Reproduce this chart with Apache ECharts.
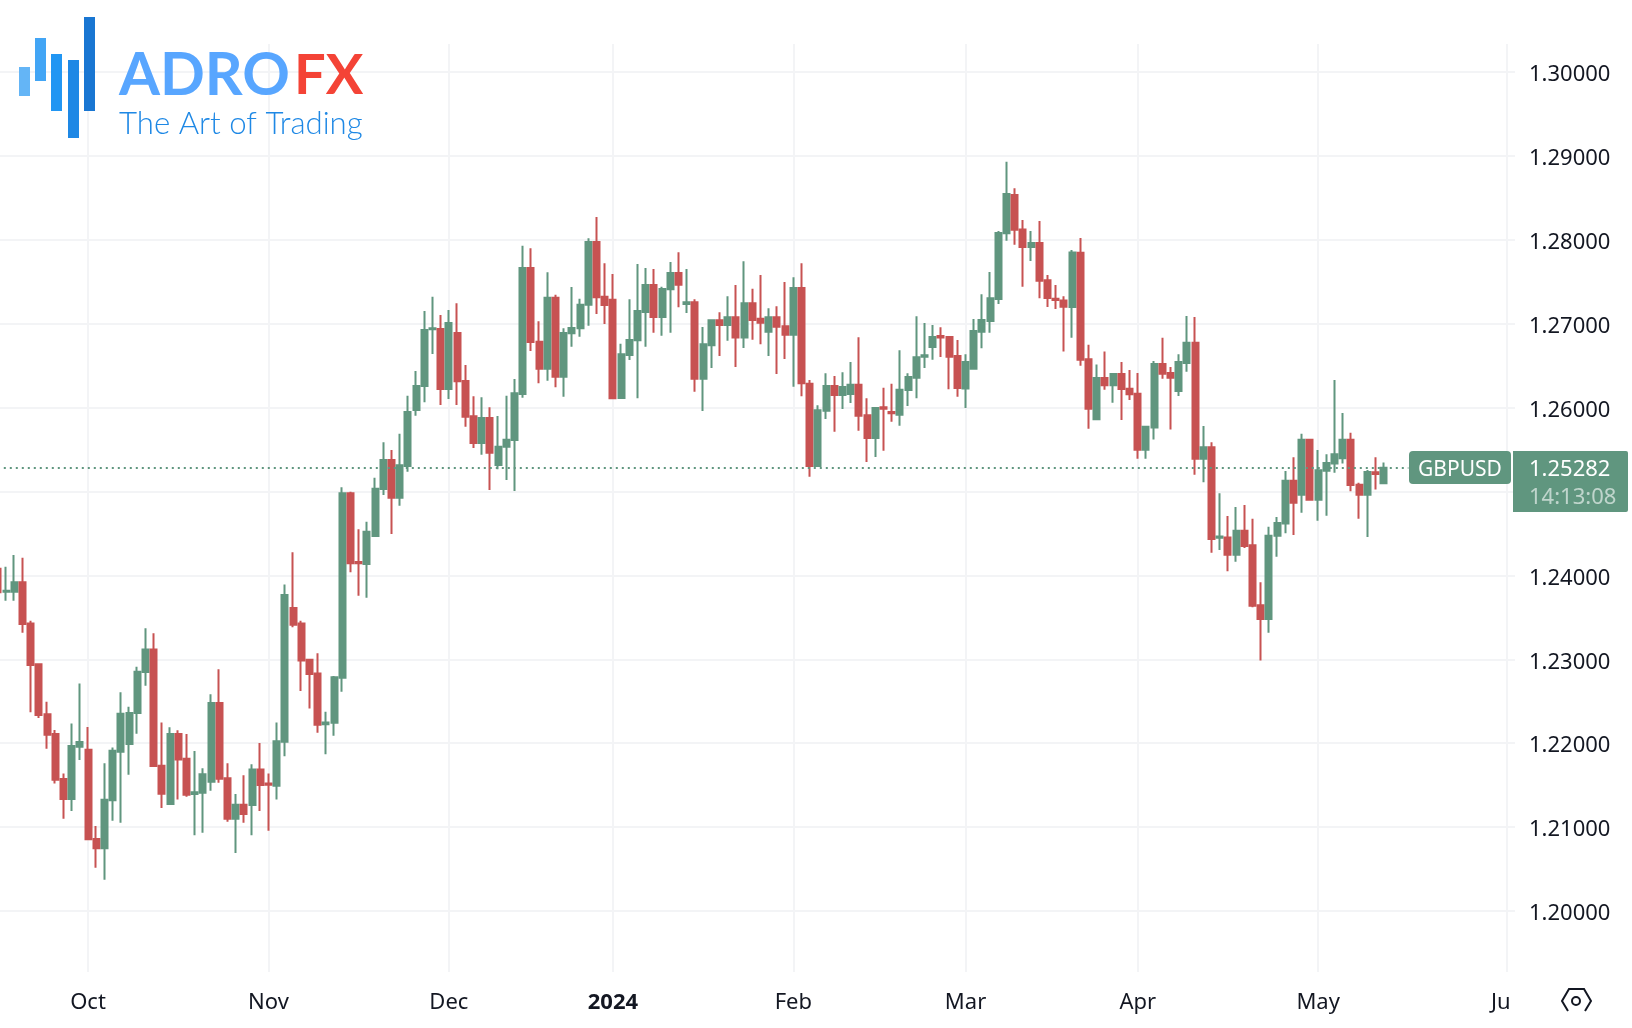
<!DOCTYPE html>
<html>
<head>
<meta charset="utf-8">
<title>GBPUSD</title>
<script src="https://cdn.jsdelivr.net/npm/echarts@6/dist/echarts.min.js"></script>
<style>
html,body{margin:0;padding:0;background:#fff;}
#chart{width:1632px;height:1028px;}
</style>
</head>
<body>
<div id="chart"></div>
<script>
// daily GBPUSD candles, one entry per bar
const opens = [
1.24080,1.23806,1.23806,1.23917,1.23428,1.22940,1.22344,1.22109,1.21573,1.21335,
1.21958,1.21923,1.20858,1.20747,1.21319,1.21899,1.21990,1.22360,1.22848,1.23118,
1.21732,1.21275,1.22109,1.21815,1.21394,1.21410,1.21541,1.22479,1.21581,1.21100,
1.21267,1.21263,1.21688,1.21521,1.21494,1.22018,1.23611,1.23428,1.22995,1.22832,
1.22225,1.22244,1.22781,1.24978,1.24160,1.24136,1.24470,1.25030,1.25375,1.24926,
1.25304,1.25971,1.26257,1.26933,1.26937,1.26222,1.26889,1.26317,1.25896,1.25578,
1.25876,1.25316,1.25534,1.25614,1.26162,1.27664,1.26786,1.26464,1.27310,1.26369,
1.26885,1.26945,1.27227,1.27974,1.27322,1.27286,1.26114,1.26627,1.26802,1.27139,
1.27461,1.27080,1.27410,1.27604,1.27235,1.27255,1.26345,1.26742,1.27040,1.26985,
1.27076,1.26837,1.27243,1.27060,1.26905,1.27076,1.26969,1.26869,1.27426,1.26285,
1.25304,1.25963,1.26257,1.26150,1.26162,1.26273,1.25908,1.25638,1.26003,1.25948,
1.25916,1.26210,1.26357,1.26607,1.26722,1.26853,1.26841,1.26615,1.26229,1.26464,
1.26905,1.27032,1.27294,1.28077,1.28534,1.28124,1.27914,1.27962,1.27517,1.27298,
1.27278,1.27199,1.27846,1.26575,1.25860,1.26352,1.26265,1.26400,1.26225,1.26166,
1.25498,1.25764,1.26519,1.26412,1.26198,1.26531,1.26774,1.25391,1.25526,1.24449,
1.24453,1.24247,1.24533,1.24358,1.23643,1.23480,1.24473,1.24620,1.25129,1.24962,
1.25617,1.24902,1.25248,1.25335,1.25395,1.25617,1.25081,1.24962,1.25228,1.25097
]
const closes = [
1.23800,1.23818,1.23917,1.23420,1.22932,1.22336,1.22101,1.21565,1.21335,1.21966,
1.22014,1.20854,1.20747,1.21327,1.21910,1.22352,1.22360,1.22852,1.23118,1.21728,
1.21398,1.22109,1.21807,1.21386,1.21414,1.21629,1.22479,1.21577,1.21100,1.21267,
1.21156,1.21688,1.21501,1.21505,1.22022,1.23766,1.23412,1.22987,1.22824,1.22221,
1.22248,1.22785,1.24978,1.24144,1.24144,1.24521,1.25034,1.25375,1.24926,1.25312,
1.25948,1.26257,1.26925,1.26945,1.26222,1.27008,1.26313,1.25892,1.25578,1.25876,
1.25463,1.25534,1.25618,1.26170,1.27664,1.26782,1.26464,1.27310,1.26369,1.26889,
1.26949,1.27227,1.27974,1.27314,1.27223,1.26110,1.26635,1.26806,1.27151,1.27461,
1.27080,1.27414,1.27604,1.27465,1.27255,1.26345,1.26754,1.27040,1.26985,1.27076,
1.26837,1.27243,1.27044,1.27012,1.27076,1.26965,1.26869,1.27426,1.26289,1.25304,
1.25967,1.26257,1.26150,1.26246,1.26273,1.25904,1.25638,1.25995,1.25987,1.25932,
1.26214,1.26365,1.26599,1.26623,1.26841,1.26837,1.26607,1.26234,1.26543,1.26913,
1.27044,1.27302,1.28081,1.28546,1.28120,1.27914,1.27962,1.27513,1.27306,1.27282,
1.27203,1.27850,1.26571,1.25987,1.26352,1.26265,1.26400,1.26221,1.26158,1.25498,
1.25772,1.26519,1.26404,1.26356,1.26543,1.26774,1.25391,1.25526,1.24433,1.24465,
1.24247,1.24533,1.24350,1.23639,1.23480,1.24473,1.24624,1.25129,1.24867,1.25617,
1.24902,1.25252,1.25340,1.25443,1.25617,1.25077,1.24962,1.25232,1.25208,1.25282
]
const lows = [
1.23800,1.23699,1.23699,1.23317,1.22368,1.22300,1.21935,1.21521,1.21100,1.21192,
1.21799,1.20854,1.20516,1.20373,1.21076,1.21053,1.21625,1.22113,1.22685,1.21720,
1.21227,1.21275,1.21330,1.21362,1.20902,1.20933,1.21434,1.21529,1.21064,1.20691,
1.21053,1.20902,1.21192,1.20957,1.21330,1.21843,1.23381,1.22622,1.22415,1.22125,
1.21867,1.22089,1.22614,1.24037,1.23758,1.23735,1.24462,1.24958,1.24494,1.24831,
1.25236,1.25904,1.26063,1.26639,1.26031,1.26102,1.26031,1.25773,1.25518,1.25439,
1.25018,1.25264,1.25137,1.25006,1.26118,1.26675,1.26289,1.26321,1.26242,1.26130,
1.26726,1.26845,1.26977,1.27116,1.26996,1.26102,1.26114,1.26567,1.26110,1.26726,
1.26893,1.26857,1.26893,1.27195,1.27128,1.26190,1.25959,1.26472,1.26615,1.26798,
1.26484,1.26710,1.26810,1.26754,1.26615,1.26400,1.26579,1.26250,1.26134,1.25177,
1.25304,1.25864,1.25713,1.25983,1.26055,1.25725,1.25352,1.25411,1.25487,1.25832,
1.25785,1.26019,1.26110,1.26472,1.26571,1.26603,1.26218,1.26130,1.25995,1.26460,
1.26706,1.26893,1.27234,1.27989,1.27942,1.27441,1.27747,1.27302,1.27199,1.27175,
1.26670,1.26833,1.26500,1.25749,1.25860,1.26213,1.26058,1.25852,1.26090,1.25391,
1.25391,1.25621,1.26345,1.25740,1.26138,1.26428,1.25200,1.25109,1.24270,1.24302,
1.24048,1.24163,1.24326,1.23619,1.22987,1.23317,1.24223,1.24501,1.24481,1.24747,
1.24902,1.24652,1.24712,1.25224,1.25335,1.25002,1.24676,1.24457,1.25025,1.25097
]
const highs = [
1.24080,1.24104,1.24243,1.24211,1.23460,1.22952,1.22495,1.22157,1.21640,1.22236,
1.22713,1.22193,1.21013,1.21760,1.21950,1.22606,1.22435,1.22912,1.23369,1.23309,
1.22248,1.22189,1.22153,1.22109,1.21907,1.21700,1.22582,1.22880,1.21760,1.21394,
1.21617,1.21748,1.22002,1.21640,1.22248,1.23893,1.24275,1.23460,1.23003,1.23071,
1.22376,1.22801,1.25050,1.24998,1.24549,1.24640,1.25165,1.25586,1.25495,1.25689,
1.26142,1.26436,1.27151,1.27322,1.27104,1.27163,1.27243,1.26508,1.26134,1.26122,
1.26003,1.25900,1.26142,1.26341,1.27930,1.27898,1.27028,1.27612,1.27346,1.26945,
1.27437,1.27298,1.28017,1.28272,1.27720,1.27592,1.26762,1.27290,1.27712,1.27664,
1.27652,1.27441,1.27735,1.27851,1.27652,1.27290,1.26961,1.27044,1.27135,1.27326,
1.27461,1.27743,1.27418,1.27580,1.27183,1.27207,1.27497,1.27553,1.27720,1.26329,
1.26027,1.26408,1.26377,1.26420,1.26544,1.26838,1.26110,1.25999,1.26238,1.26285,
1.26683,1.26408,1.27088,1.27008,1.26985,1.26957,1.26850,1.26806,1.26635,1.27056,
1.27350,1.27616,1.28105,1.28931,1.28613,1.28236,1.28105,1.28224,1.27580,1.27461,
1.27326,1.27878,1.28021,1.26750,1.26515,1.26670,1.26400,1.26543,1.26448,1.26412,
1.25780,1.26555,1.26833,1.26484,1.26635,1.27091,1.27080,1.25780,1.25586,1.24978,
1.24708,1.24815,1.24839,1.24676,1.23917,1.24580,1.24696,1.25244,1.25407,1.25689,
1.25629,1.25494,1.25443,1.26329,1.25935,1.25701,1.25105,1.25256,1.25407,1.25347
]

// bar index of each month label; 184 is a future bar
const monthIndex = [11,33,55,75,97,118,139,161,184]
const monthLabels = ['Oct','Nov','Dec','2024','Feb','Mar','Apr','May','Ju']
const lastPrice = 1.25282
const countdown = '14:13:08'
const symbol = 'GBPUSD'
const barCount = 186 // bars plus blank space to the right

const green = '#60967f'
const red = '#c75252'
const gridColor = '#f3f4f6'
const textColor = '#131722'
const font = '"Noto Sans", sans-serif'

const categories = []
for(let i=0;i<barCount;i++) categories.push(i)
const candles = opens.map((o,i) => [o,closes[i],lows[i],highs[i]])

let myChart = echarts.init(document.getElementById('chart'))

const tickCheck = (index) => monthIndex.indexOf(index) >= 0

// logo + price tags sit outside of the axes
const logoBars = [
	[19,67,11,29,'#64b5f6'],
	[35,38,11,43,'#42a5f5'],
	[51,54,11,57,'#2196f3'],
	[68,60,11,78,'#1e88e5'],
	[84,17,11,94,'#1976d2']
]
const graphic = logoBars.map(b => ({
	type:'rect', z:10, shape:{x:b[0],y:b[1],width:b[2],height:b[3]}, style:{fill:b[4]}
}))
graphic.push(
	{type:'text',z:10,x:119,y:105,style:{text:'ADRO',fill:'#58a6ff',font:'bold 59px Lato',textVerticalAlign:'bottom'}},
	{type:'text',z:10,x:294,y:104,style:{text:'FX',fill:'#f44336',font:'bold 56px Lato',textVerticalAlign:'bottom'}},
	{type:'text',z:10,x:119,y:139,style:{text:'The Art of Trading',fill:'#1e88e5',font:'300 31.2px Lato',textVerticalAlign:'bottom'}},
	{type:'rect',z:10,shape:{x:1409,y:451,width:102,height:33,r:4},style:{fill:green}},
	{type:'text',z:11,x:1460,y:470,style:{text:symbol,fill:'#fff',font:'21px '+font,textAlign:'center',textVerticalAlign:'middle'}},
	{type:'rect',z:10,shape:{x:1513,y:451,width:115,height:61,r:[0,2,2,0]},style:{fill:green}},
	{type:'text',z:11,x:1529,y:470,style:{text:lastPrice.toFixed(5),fill:'#fff',font:'22px '+font,textVerticalAlign:'middle'}},
	{type:'text',z:11,x:1529,y:498,style:{text:countdown,fill:'rgba(255,255,255,0.6)',font:'22px '+font,textVerticalAlign:'middle'}},
	{type:'polyline',z:10,shape:{points:[[1568,1011],[1562,1001],[1569,989],[1584,989],[1591,1001],[1585,1011]]},style:{stroke:textColor,lineWidth:2,fill:null}},
	{type:'circle',z:10,shape:{cx:1576,cy:1001,r:4},style:{stroke:textColor,lineWidth:2,fill:null}}
)

const option = {
	animation:false,
	backgroundColor:'#fff',
	graphic:graphic,
	grid:[
		{left:-2.2,right:117,top:-11.9,bottom:33.1,outerBoundsMode:'none'}, // candles, ticks at round prices
		{left:-2.2,right:117,top:44,bottom:56,outerBoundsMode:'none'}       // month lines
	],
	xAxis:[
		{
			type:'category',
			gridIndex:0,
			data:categories,
			boundaryGap:false,
			show:false
		},
		{
			type:'category',
			gridIndex:1,
			data:categories,
			boundaryGap:false,
			axisLine:{show:false},
			axisTick:{show:false},
			splitLine:{
				show:true,
				interval:(index) => tickCheck(index),
				lineStyle:{color:gridColor,width:2}
			},
			axisLabel:{
				interval:(index) => tickCheck(index),
				margin:20,
				fontSize:22,
				fontFamily:font,
				color:textColor,
				formatter:(value,index) => {
					const label = monthLabels[monthIndex.indexOf(index)]
					if(label === '2024') return '{b|2024}'
					if(label === 'Ju') return '{j|Ju}'
					return label
				},
				rich:{
					b:{fontWeight:'bold',fontSize:22,fontFamily:font,color:textColor},
					j:{fontSize:22,fontFamily:font,color:textColor,padding:[0,12,0,0]}
				}
			}
		}
	],
	yAxis:[
		{
			type:'value',
			gridIndex:0,
			position:'right',
			min:1.19,
			max:1.31,
			interval:0.01,
			axisLine:{show:false},
			axisTick:{show:false},
			axisLabel:{
				showMinLabel:false,
				showMaxLabel:false,
				margin:14,
				formatter:(v) => '{p|' + v.toFixed(5) + '}',
				rich:{
					p:{fontSize:22,fontFamily:font,color:textColor,padding:[6,0,0,0]}
				}
			},
			splitLine:{show:true,showMinLine:false,showMaxLine:false,lineStyle:{color:gridColor,width:2}}
		},
		{type:'value',gridIndex:1,min:0,max:1,show:false,splitLine:{show:false}}
	],
	series:[
		{
			type:'candlestick',
			xAxisIndex:0,
			yAxisIndex:0,
			data:candles,
			barWidth:6.5,
			itemStyle:{
				color:green,
				color0:red,
				borderColor:green,
				borderColor0:red,
				borderWidth:2
			},
			markLine:{
				silent:true,
				symbol:'none',
				label:{show:false},
				lineStyle:{color:green,type:[2,4],width:2},
				data:[[{xAxis:0,yAxis:lastPrice},{xAxis:172,yAxis:lastPrice}]]
			}
		}
	]
}
myChart.setOption(option)
</script>
</body>
</html>
